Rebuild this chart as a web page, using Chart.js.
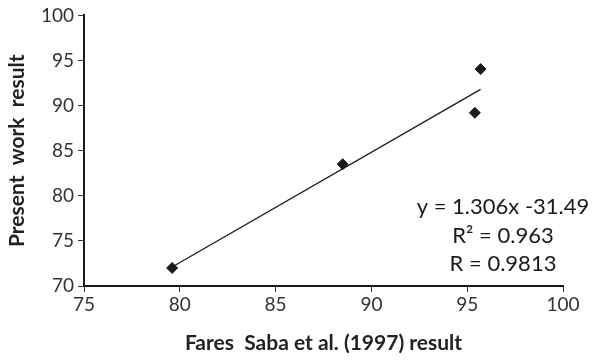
<!DOCTYPE html>
<html>
<head>
<meta charset="utf-8">
<script src="https://cdn.jsdelivr.net/npm/chart.js@4"></script>
<style>
  html, body { margin: 0; padding: 0; background: #fff; }
  #wrap { width: 615px; height: 361px; position: relative; }
</style>
</head>
<body>
<div id="wrap"><canvas id="scatterChart" width="615" height="361"></canvas></div>
<script>
// values
const sabaResult = [79.6, 88.5, 95.4, 95.7];
const presentResult = [72.0, 83.5, 89.2, 94.05];
// fitted line as drawn (start and end)
const fitX = [79.6, 95.7];
const fitY = [72.1, 91.8];
const fitLabels = ["y = 1.306x -31.49", "R\u00b2 = 0.963", "R = 0.9813"];

const points = sabaResult.map((x, i) => ({ x: x, y: presentResult[i] }));
const fitLine = fitX.map((x, i) => ({ x: x, y: fitY[i] }));

// draws the equation text in the lower right
const fitText = {
    id: 'fitText',
    afterDraw(chart) {
        const c = chart.ctx;
        const area = chart.chartArea;
        c.save();
        c.font = '22px Lato';
        c.fillStyle = '#1a1a1a';
        c.textAlign = 'center';
        c.textBaseline = 'middle';
        const cx = area.right - 60;
        fitLabels.forEach((t, i) => {
            c.fillText(t, cx, area.bottom - 79 + i * 28.5);
        });
        c.restore();
    }
};

const tickFont = { family: 'Lato', size: 19 };
const titleFont = { family: 'Lato', size: 21, weight: 'bold' };

const config = {
    type: 'scatter',
    data: {
        datasets: [{
            data: points,
            pointStyle: 'rectRot',
            pointRadius: 5.5,
            backgroundColor: '#1a1a1a',
            borderColor: '#1a1a1a',
            borderWidth: 1
        }, {
            data: fitLine,
            showLine: true,
            borderColor: '#1a1a1a',
            borderWidth: 1.3,
            pointRadius: 0
        }]
    },
    options: {
        responsive: false,
        animation: false,
        layout: { padding: { left: 0, right: 52, top: 14, bottom: 0 } },
        plugins: { legend: { display: false }, tooltip: { enabled: false } },
        scales: {
            x: {
                type: 'linear', min: 75, max: 100,
                ticks: { stepSize: 5, color: '#333', font: tickFont, padding: 1 },
                grid: { drawOnChartArea: false, tickLength: 6, color: '#333', lineWidth: 1 },
                border: { color: '#1a1a1a', width: 2 },
                title: { display: true, text: 'Fares  Saba et al. (1997) result', color: '#222', font: titleFont, padding: { top: 0, bottom: 5 } },
                afterFit(s) { s.height = 75; }
            },
            y: {
                min: 70, max: 100,
                ticks: { stepSize: 5, color: '#333', font: tickFont, padding: 4 },
                grid: { drawOnChartArea: false, tickLength: 6, color: '#333', lineWidth: 1 },
                border: { color: '#1a1a1a', width: 2 },
                title: { display: true, text: 'Present  work  result', color: '#222', font: titleFont, padding: { top: 5, bottom: 0 } },
                afterFit(s) { s.width = 84; }
            }
        }
    },
    plugins: [fitText]
};

const ctx = document.getElementById('scatterChart').getContext('2d');
const scatterChart = new Chart(ctx, config);
</script>
</body>
</html>
